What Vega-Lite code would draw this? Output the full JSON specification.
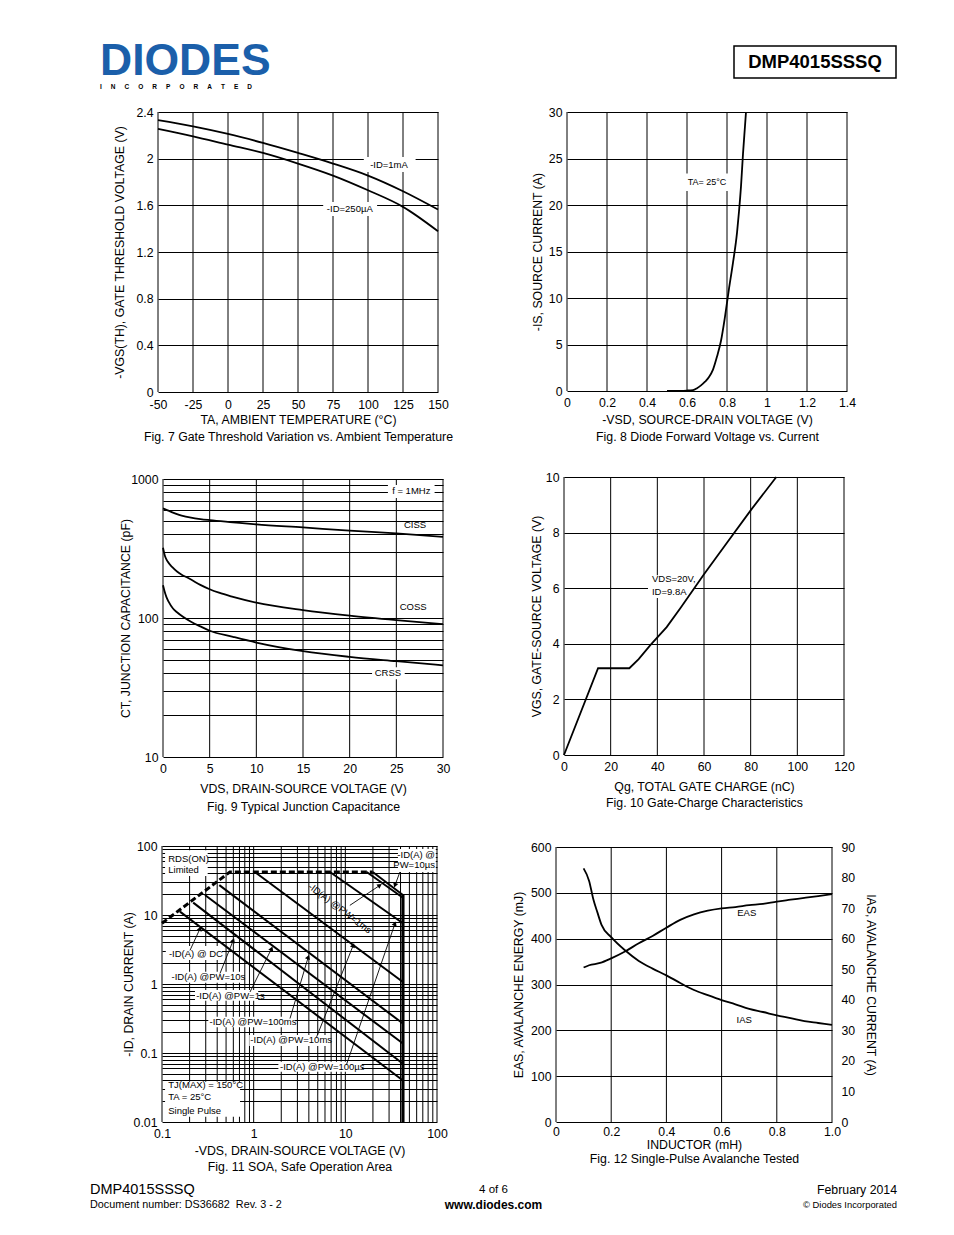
{
"$schema": "https://vega.github.io/schema/vega-lite/v6.json",
"width": 954, "height": 1235, "padding": 0, "autosize": {"type": "none"},
"background": "white",
"config": {
 "view": {"stroke": null},
 "font": "Liberation Sans",
 "axis": {"labelFont": "Liberation Sans", "labelFontSize": 12.3, "labelColor": "#000", "titleFont": "Liberation Sans", "titleFontSize": 12.3, "titleFontWeight": "normal", "titleColor": "#000", "ticks": false, "tickSize": 0, "domain": false, "labelPadding": 5, "gridColor": "#000", "gridOpacity": 1, "gridWidth": 1, "labelFlush": false, "labelOverlap": false, "labelBound": false, "grid": false, "titleBaseline": "middle"},
 "text": {"font": "Liberation Sans", "fontSize": 9.5, "color": "#000"},
 "line": {"color": "#000", "strokeWidth": 1.8},
 "rule": {"color": "#000", "strokeWidth": 1}
},
"resolve": {"scale": {"x": "independent", "y": "independent"}, "axis": {"x": "independent", "y": "independent"}},
"layer": [
 {
  "layer": [
   {"data": {"values": [{"slot": "left", "row": "main", "t": "DIODES"}]},
    "mark": {"type": "text", "align": "left", "baseline": "middle", "fontSize": 44.5, "fontWeight": "bold", "color": "#1b5faa"},
    "encoding": {
     "x": {"field": "slot", "type": "nominal", "scale": {"type": "point", "domain": ["left", "right"], "range": [100, 815], "padding": 0}, "axis": null},
     "y": {"field": "row", "type": "nominal", "scale": {"type": "point", "domain": ["main", "sub"], "range": [62, 86.5], "padding": 0}, "axis": null},
     "text": {"field": "t"}}},
   {"data": {"values": [{"slot": "left", "row": "sub", "t": "I\u00a0\u00a0\u00a0\u00a0\u00a0N\u00a0\u00a0\u00a0\u00a0\u00a0C\u00a0\u00a0\u00a0\u00a0\u00a0O\u00a0\u00a0\u00a0\u00a0\u00a0R\u00a0\u00a0\u00a0\u00a0\u00a0P\u00a0\u00a0\u00a0\u00a0\u00a0O\u00a0\u00a0\u00a0\u00a0\u00a0R\u00a0\u00a0\u00a0\u00a0\u00a0A\u00a0\u00a0\u00a0\u00a0\u00a0T\u00a0\u00a0\u00a0\u00a0\u00a0E\u00a0\u00a0\u00a0\u00a0\u00a0D"}]},
    "mark": {"type": "text", "align": "left", "baseline": "middle", "fontSize": 6.5, "fontWeight": "bold"},
    "encoding": {"x": {"field": "slot", "type": "nominal", "axis": null}, "y": {"field": "row", "type": "nominal", "axis": null}, "text": {"field": "t"}}},
   {"data": {"values": [{"slot": "right", "row": "main"}]},
    "mark": {"type": "rect", "width": 162, "height": 32, "fill": "white", "stroke": "#000", "strokeWidth": 1.5},
    "encoding": {"x": {"field": "slot", "type": "nominal", "axis": null}, "y": {"field": "row", "type": "nominal", "axis": null}}},
   {"data": {"values": [{"slot": "right", "row": "main", "t": "DMP4015SSSQ"}]},
    "mark": {"type": "text", "baseline": "middle", "fontSize": 18.5, "fontWeight": "bold"},
    "encoding": {"x": {"field": "slot", "type": "nominal", "axis": null}, "y": {"field": "row", "type": "nominal", "axis": null}, "text": {"field": "t"}}}
  ]
 },
 {
  "resolve": {"axis": {"x": "independent", "y": "independent"}},
  "layer": [
   {"data": {"values": [{"v": -50}, {"v": -25}, {"v": 0}, {"v": 25}, {"v": 50}, {"v": 75}, {"v": 100}, {"v": 125}, {"v": 150}]},
    "mark": {"type": "rule"},
    "encoding": {"x": {"field": "v", "type": "quantitative", "axis": null}, "y": {"datum": 0, "axis": null}, "y2": {"datum": 2.4}}},
   {"data": {"values": [{"x1": 68, "x2": 106.5, "y1": 1.509, "y2": 1.629}, {"x1": 97, "x2": 134, "y1": 1.886, "y2": 2.014}]},
    "mark": {"type": "rect", "fill": "white"},
    "encoding": {"x": {"field": "x1", "type": "quantitative", "axis": null}, "x2": {"field": "x2"}, "y": {"field": "y1", "type": "quantitative", "axis": null}, "y2": {"field": "y2"}}},
   {"data": {"values": [
     {"s": "1mA", "t": -50, "v": 2.33}, {"s": "1mA", "t": -25, "v": 2.277}, {"s": "1mA", "t": 0, "v": 2.212}, {"s": "1mA", "t": 25, "v": 2.135}, {"s": "1mA", "t": 50, "v": 2.049}, {"s": "1mA", "t": 75, "v": 1.958}, {"s": "1mA", "t": 100, "v": 1.855}, {"s": "1mA", "t": 125, "v": 1.721}, {"s": "1mA", "t": 150, "v": 1.564},
     {"s": "250uA", "t": -50, "v": 2.255}, {"s": "250uA", "t": -25, "v": 2.192}, {"s": "250uA", "t": 0, "v": 2.12}, {"s": "250uA", "t": 25, "v": 2.049}, {"s": "250uA", "t": 50, "v": 1.958}, {"s": "250uA", "t": 75, "v": 1.855}, {"s": "250uA", "t": 100, "v": 1.729}, {"s": "250uA", "t": 125, "v": 1.587}, {"s": "250uA", "t": 150, "v": 1.378}]},
    "mark": {"type": "line", "interpolate": "monotone"},
    "encoding": {
     "x": {"field": "t", "type": "quantitative", "scale": {"domain": [-50, 150], "range": [158, 438], "nice": false, "zero": false},
       "axis": {"orient": "bottom", "offset": -843, "values": [-50, -25, 0, 25, 50, 75, 100, 125, 150], "labelPadding": 6.5, "labelExpr": "'' + datum.value", "title": ["TA, AMBIENT TEMPERATURE (°C)", "Fig. 7 Gate Threshold Variation vs. Ambient Temperature"], "titleY": 27, "titleBaseline": "middle", "titleLineHeight": 17}},
     "y": {"field": "v", "type": "quantitative", "scale": {"domain": [0, 2.4], "range": [392, 112], "nice": false, "zero": false},
       "axis": {"orient": "left", "offset": -158, "values": [0, 0.4, 0.8, 1.2, 1.6, 2, 2.4], "labelExpr": "'' + datum.value", "grid": true, "title": "-VGS(TH), GATE THRESHOLD VOLTAGE (V)", "titleX": -39, "titleBaseline": "middle", "titleAngle": 270}},
     "detail": {"field": "s"}}},
   {"data": {"values": [{"x": 115, "y": 1.949, "t": "-ID=1mA"}, {"x": 87, "y": 1.569, "t": "-ID=250µA"}]},
    "mark": {"type": "text"},
    "encoding": {"x": {"field": "x", "type": "quantitative", "axis": null}, "y": {"field": "y", "type": "quantitative", "axis": null}, "text": {"field": "t"}}}
  ]
 },
 {
  "resolve": {"axis": {"x": "independent", "y": "independent"}},
  "layer": [
   {"data": {"values": [{"v": 0}, {"v": 0.2}, {"v": 0.4}, {"v": 0.6}, {"v": 0.8}, {"v": 1}, {"v": 1.2}, {"v": 1.4}]},
    "mark": {"type": "rule"},
    "encoding": {"x": {"field": "v", "type": "quantitative", "axis": null}, "y": {"datum": 0, "axis": null}, "y2": {"datum": 30}}},
   {"data": {"values": [{"x1": 0.59, "x2": 0.815, "y1": 21.5, "y2": 23.4}]},
    "mark": {"type": "rect", "fill": "white"},
    "encoding": {"x": {"field": "x1", "type": "quantitative", "axis": null}, "x2": {"field": "x2"}, "y": {"field": "y1", "type": "quantitative", "axis": null}, "y2": {"field": "y2"}}},
   {"data": {"values": [
     {"v": 0.5, "i": 0}, {"v": 0.6, "i": 0.05}, {"v": 0.63, "i": 0.1}, {"v": 0.65, "i": 0.3}, {"v": 0.67, "i": 0.6}, {"v": 0.69, "i": 1.0}, {"v": 0.71, "i": 1.5}, {"v": 0.73, "i": 2.3}, {"v": 0.75, "i": 3.7}, {"v": 0.77, "i": 5.4}, {"v": 0.79, "i": 8.0}, {"v": 0.81, "i": 11.0}, {"v": 0.83, "i": 13.8}, {"v": 0.85, "i": 17.0}, {"v": 0.86, "i": 19.3}, {"v": 0.87, "i": 22.0}, {"v": 0.88, "i": 25.5}, {"v": 0.89, "i": 28.5}, {"v": 0.895, "i": 30}]},
    "mark": {"type": "line", "interpolate": "monotone"},
    "encoding": {
     "x": {"field": "v", "type": "quantitative", "scale": {"domain": [0, 1.4], "range": [567, 847], "nice": false, "zero": false},
       "axis": {"orient": "bottom", "offset": -844, "values": [0, 0.2, 0.4, 0.6, 0.8, 1, 1.2, 1.4], "labelExpr": "'' + datum.value", "title": ["-VSD, SOURCE-DRAIN VOLTAGE (V)", "Fig. 8 Diode Forward Voltage vs. Current"], "titleY": 28, "titleBaseline": "middle", "titleLineHeight": 17}},
     "y": {"field": "i", "type": "quantitative", "scale": {"domain": [0, 30], "range": [391, 112], "nice": false, "zero": false},
       "axis": {"orient": "left", "offset": -567, "values": [0, 5, 10, 15, 20, 25, 30], "grid": true, "title": "-IS, SOURCE CURRENT (A)", "titleX": -30, "titleBaseline": "middle", "titleAngle": 270}}}},
   {"data": {"values": [{"x": 0.70, "y": 22.5, "t": "TA= 25°C"}]},
    "mark": {"type": "text", "fontSize": 9},
    "encoding": {"x": {"field": "x", "type": "quantitative", "axis": null}, "y": {"field": "y", "type": "quantitative", "axis": null}, "text": {"field": "t"}}}
  ]
 },
 {
  "resolve": {"axis": {"x": "independent", "y": "independent"}},
  "layer": [
   {"data": {"values": [{"v": 0}, {"v": 5}, {"v": 10}, {"v": 15}, {"v": 20}, {"v": 25}, {"v": 30}]},
    "mark": {"type": "rule"},
    "encoding": {"x": {"field": "v", "type": "quantitative", "axis": null}, "y": {"datum": 10, "axis": null}, "y2": {"datum": 1000}}},
   {"data": {"values": [{"x1": 24.1, "x2": 29.1, "y1": 730, "y2": 905}, {"x1": 22.4, "x2": 25.9, "y1": 36.2, "y2": 44.2}]},
    "mark": {"type": "rect", "fill": "white"},
    "encoding": {"x": {"field": "x1", "type": "quantitative", "axis": null}, "x2": {"field": "x2"}, "y": {"field": "y1", "type": "quantitative", "axis": null}, "y2": {"field": "y2"}}},
   {"data": {"values": [
     {"s": "Ciss", "v": 0, "c": 615}, {"s": "Ciss", "v": 0.5, "c": 595}, {"s": "Ciss", "v": 1, "c": 575}, {"s": "Ciss", "v": 1.5, "c": 558}, {"s": "Ciss", "v": 2, "c": 545}, {"s": "Ciss", "v": 3, "c": 527}, {"s": "Ciss", "v": 4, "c": 515}, {"s": "Ciss", "v": 5, "c": 506}, {"s": "Ciss", "v": 7.5, "c": 488}, {"s": "Ciss", "v": 10, "c": 471}, {"s": "Ciss", "v": 15, "c": 448}, {"s": "Ciss", "v": 20, "c": 425}, {"s": "Ciss", "v": 25, "c": 406}, {"s": "Ciss", "v": 30, "c": 384},
     {"s": "Coss", "v": 0, "c": 320}, {"s": "Coss", "v": 0.2, "c": 280}, {"s": "Coss", "v": 0.5, "c": 255}, {"s": "Coss", "v": 1, "c": 232}, {"s": "Coss", "v": 1.5, "c": 216}, {"s": "Coss", "v": 2, "c": 205}, {"s": "Coss", "v": 2.5, "c": 197}, {"s": "Coss", "v": 3, "c": 189}, {"s": "Coss", "v": 4, "c": 173}, {"s": "Coss", "v": 5, "c": 161}, {"s": "Coss", "v": 6, "c": 152}, {"s": "Coss", "v": 7.5, "c": 142}, {"s": "Coss", "v": 10, "c": 129}, {"s": "Coss", "v": 15, "c": 114}, {"s": "Coss", "v": 20, "c": 104}, {"s": "Coss", "v": 25, "c": 96.5}, {"s": "Coss", "v": 30, "c": 90.3},
     {"s": "Crss", "v": 0, "c": 172}, {"s": "Crss", "v": 0.15, "c": 157}, {"s": "Crss", "v": 0.36, "c": 142}, {"s": "Crss", "v": 0.6, "c": 131}, {"s": "Crss", "v": 1.07, "c": 117}, {"s": "Crss", "v": 1.5, "c": 110}, {"s": "Crss", "v": 2.14, "c": 102}, {"s": "Crss", "v": 3, "c": 94}, {"s": "Crss", "v": 4, "c": 87}, {"s": "Crss", "v": 5, "c": 81}, {"s": "Crss", "v": 7.5, "c": 73.2}, {"s": "Crss", "v": 10, "c": 66.6}, {"s": "Crss", "v": 15, "c": 57.7}, {"s": "Crss", "v": 20, "c": 52.5}, {"s": "Crss", "v": 25, "c": 48.9}, {"s": "Crss", "v": 30, "c": 45.7}]},
    "mark": {"type": "line", "interpolate": "monotone"},
    "encoding": {
     "x": {"field": "v", "type": "quantitative", "scale": {"domain": [0, 30], "range": [163, 443], "nice": false, "zero": false},
       "axis": {"orient": "bottom", "offset": -478, "values": [0, 5, 10, 15, 20, 25, 30], "title": ["VDS, DRAIN-SOURCE VOLTAGE (V)", "Fig. 9 Typical Junction Capacitance"], "titleY": 31, "titleBaseline": "middle", "titleLineHeight": 18}},
     "y": {"field": "c", "type": "quantitative", "scale": {"type": "log", "domain": [10, 1000], "range": [757, 479], "nice": false},
       "axis": {"orient": "left", "offset": -163, "values": [10, 20, 30, 40, 50, 60, 70, 80, 90, 100, 200, 300, 400, 500, 600, 700, 800, 900, 1000], "format": "~g", "labelExpr": "indexof([10, 100, 1000], datum.value) >= 0 ? datum.label : ''", "grid": true, "title": "CT, JUNCTION CAPACITANCE (pF)", "titleX": -38, "titleBaseline": "middle", "titleAngle": 270}},
     "detail": {"field": "s"}}},
   {"data": {"values": [{"x": 26.6, "y": 826, "t": "f = 1MHz"}, {"x": 27.0, "y": 466, "t": "CISS"}, {"x": 26.8, "y": 120, "t": "COSS"}, {"x": 24.1, "y": 40, "t": "CRSS"}]},
    "mark": {"type": "text"},
    "encoding": {"x": {"field": "x", "type": "quantitative", "axis": null}, "y": {"field": "y", "type": "quantitative", "axis": null}, "text": {"field": "t"}}}
  ]
 },
 {
  "resolve": {"axis": {"x": "independent", "y": "independent"}},
  "layer": [
   {"data": {"values": [{"v": 0}, {"v": 20}, {"v": 40}, {"v": 60}, {"v": 80}, {"v": 100}, {"v": 120}]},
    "mark": {"type": "rule"},
    "encoding": {"x": {"field": "v", "type": "quantitative", "axis": null}, "y": {"datum": 0, "axis": null}, "y2": {"datum": 10}}},
   {"data": {"values": [{"x1": 36, "x2": 56, "y1": 5.65, "y2": 6.47}]},
    "mark": {"type": "rect", "fill": "white"},
    "encoding": {"x": {"field": "x1", "type": "quantitative", "axis": null}, "x2": {"field": "x2"}, "y": {"field": "y1", "type": "quantitative", "axis": null}, "y2": {"field": "y2"}}},
   {"data": {"values": [
     {"q": 0, "v": 0}, {"q": 14.6, "v": 3.12}, {"q": 28, "v": 3.12}, {"q": 32, "v": 3.45}, {"q": 37, "v": 3.95}, {"q": 44, "v": 4.6}, {"q": 50, "v": 5.3}, {"q": 60, "v": 6.5}, {"q": 70, "v": 7.65}, {"q": 80, "v": 8.8}, {"q": 91, "v": 10}]},
    "mark": {"type": "line"},
    "encoding": {
     "x": {"field": "q", "type": "quantitative", "scale": {"domain": [0, 120], "range": [564, 844], "nice": false, "zero": false},
       "axis": {"orient": "bottom", "offset": -480, "values": [0, 20, 40, 60, 80, 100, 120], "title": ["Qg, TOTAL GATE CHARGE (nC)", "Fig. 10 Gate-Charge Characteristics"], "titleY": 31, "titleBaseline": "middle", "titleLineHeight": 16}},
     "y": {"field": "v", "type": "quantitative", "scale": {"domain": [0, 10], "range": [755, 477], "nice": false, "zero": false},
       "axis": {"orient": "left", "offset": -564, "values": [0, 2, 4, 6, 8, 10], "grid": true, "title": "VGS, GATE-SOURCE VOLTAGE (V)", "titleX": -28, "titleBaseline": "middle", "titleAngle": 270}}}},
   {"data": {"values": [{"x": 37.7, "y": 6.33, "t": "VDS=20V,"}, {"x": 37.7, "y": 5.86, "t": "ID=9.8A"}]},
    "mark": {"type": "text", "align": "left"},
    "encoding": {"x": {"field": "x", "type": "quantitative", "axis": null}, "y": {"field": "y", "type": "quantitative", "axis": null}, "text": {"field": "t"}}}
  ]
 },
 {
  "resolve": {"axis": {"x": "independent", "y": "independent"}},
  "layer": [
   {"data": {"values": [{"v": 0.1}, {"v": 0.2}, {"v": 0.3}, {"v": 0.4}, {"v": 0.5}, {"v": 0.6}, {"v": 0.7}, {"v": 0.8}, {"v": 0.9}, {"v": 1}, {"v": 2}, {"v": 3}, {"v": 4}, {"v": 5}, {"v": 6}, {"v": 7}, {"v": 8}, {"v": 9}, {"v": 10}, {"v": 20}, {"v": 30}, {"v": 40}, {"v": 50}, {"v": 60}, {"v": 70}, {"v": 80}, {"v": 90}, {"v": 100}]},
    "mark": {"type": "rule"},
    "encoding": {"x": {"field": "v", "type": "quantitative", "axis": null}, "y": {"datum": 0.01, "axis": null}, "y2": {"datum": 100}}},
   {"data": {"values": [
     {"x1": 0.108, "x2": 0.315, "y1": 36.7, "y2": 87},
     {"x1": 37.5, "x2": 97, "y1": 42, "y2": 90.5},
     {"x1": 0.11, "x2": 0.451, "y1": 2.23, "y2": 3.55},
     {"x1": 0.122, "x2": 0.766, "y1": 1.04, "y2": 1.51},
     {"x1": 0.229, "x2": 1.12, "y1": 0.573, "y2": 0.818},
     {"x1": 0.32, "x2": 2.83, "y1": 0.236, "y2": 0.336},
     {"x1": 0.896, "x2": 6.8, "y1": 0.126, "y2": 0.182},
     {"x1": 1.86, "x2": 15.1, "y1": 0.0536, "y2": 0.0748},
     {"x1": 0.108, "x2": 0.71, "y1": 0.0119, "y2": 0.0384}]},
    "mark": {"type": "rect", "fill": "white"},
    "encoding": {"x": {"field": "x1", "type": "quantitative", "axis": null}, "x2": {"field": "x2"}, "y": {"field": "y1", "type": "quantitative", "axis": null}, "y2": {"field": "y2"}}},
   {"data": {"values": [
     {"s": "DC", "v": 0.157, "i": 11.2}, {"s": "DC", "v": 42.5, "i": 0.040},
     {"s": "10s", "v": 0.219, "i": 15.1}, {"s": "10s", "v": 42.5, "i": 0.070},
     {"s": "1s", "v": 0.294, "i": 19.5}, {"s": "1s", "v": 42.5, "i": 0.137},
     {"s": "100ms", "v": 0.422, "i": 27.1}, {"s": "100ms", "v": 42.5, "i": 0.267},
     {"s": "10ms", "v": 1.03, "i": 42}, {"s": "10ms", "v": 42.5, "i": 1.07},
     {"s": "100us", "v": 6.8, "i": 42}, {"s": "100us", "v": 42.5, "i": 7.6},
     {"s": "1ms", "v": 17.1, "i": 42}, {"s": "1ms", "v": 42.5, "i": 17.8},
     {"s": "10us", "v": 19.9, "i": 42}, {"s": "10us", "v": 42.5, "i": 19.5}]},
    "mark": {"type": "line", "strokeWidth": 2},
    "encoding": {
     "x": {"field": "v", "type": "quantitative", "scale": {"type": "log", "domain": [0.1, 100], "range": [162, 437], "nice": false},
       "axis": {"orient": "bottom", "offset": -113, "values": [0.1, 0.2, 0.3, 0.4, 0.5, 0.6, 0.7, 0.8, 0.9, 1, 2, 3, 4, 5, 6, 7, 8, 9, 10, 20, 30, 40, 50, 60, 70, 80, 90, 100], "format": "~g", "labelExpr": "indexof([0.1, 1, 10, 100], datum.value) >= 0 ? datum.label : ''", "title": ["-VDS, DRAIN-SOURCE VOLTAGE (V)", "Fig. 11 SOA, Safe Operation Area"], "titleY": 28, "titleBaseline": "middle", "titleLineHeight": 16}},
     "y": {"field": "i", "type": "quantitative", "scale": {"type": "log", "domain": [0.01, 100], "range": [1122, 846], "nice": false},
       "axis": {"orient": "left", "offset": -162, "values": [0.01, 0.02, 0.03, 0.04, 0.05, 0.06, 0.07, 0.08, 0.09, 0.1, 0.2, 0.3, 0.4, 0.5, 0.6, 0.7, 0.8, 0.9, 1, 2, 3, 4, 5, 6, 7, 8, 9, 10, 20, 30, 40, 50, 60, 70, 80, 90, 100], "format": "~g", "labelExpr": "indexof([0.01, 0.1, 1, 10, 100], datum.value) >= 0 ? datum.label : ''", "grid": true, "title": "-ID, DRAIN CURRENT (A)", "titleX": -34, "titleBaseline": "middle", "titleAngle": 270}},
     "detail": {"field": "s"}}},
   {"data": {"values": [{"v": 0.1, "i": 7.6}, {"v": 0.55, "i": 42}, {"v": 19.9, "i": 42}]},
    "mark": {"type": "line", "strokeWidth": 3, "strokeDash": [6, 3]},
    "encoding": {"x": {"field": "v", "type": "quantitative", "axis": null}, "y": {"field": "i", "type": "quantitative", "axis": null}}},
   {"data": {"values": [{"v": 42.5, "i": 19.5}, {"v": 42.5, "i": 0.01}]},
    "mark": {"type": "line", "strokeWidth": 3.2},
    "encoding": {"x": {"field": "v", "type": "quantitative", "axis": null}, "y": {"field": "i", "type": "quantitative", "axis": null}}},
   {"data": {"values": [
     {"s": "DC", "x1": 0.202, "y1": 3.07, "x2": 0.26, "y2": 6.35},
     {"s": "10s", "x1": 0.429, "y1": 1.42, "x2": 0.599, "y2": 4.3},
     {"s": "1s", "x1": 0.912, "y1": 0.766, "x2": 1.57, "y2": 3.26},
     {"s": "100ms", "x1": 2.49, "y1": 0.316, "x2": 3.94, "y2": 2.46},
     {"s": "10ms", "x1": 4.86, "y1": 0.171, "x2": 12.2, "y2": 3.64},
     {"s": "100us", "x1": 10.3, "y1": 0.068, "x2": 34.8, "y2": 7.5},
     {"s": "1ms", "x1": 11.2, "y1": 13.8, "x2": 23.8, "y2": 26.9},
     {"s": "10us", "x1": 39.4, "y1": 42, "x2": 34.8, "y2": 26.9}]},
    "layer": [
     {"mark": {"type": "rule", "strokeWidth": 0.9},
      "encoding": {"x": {"field": "x1", "type": "quantitative", "axis": null}, "x2": {"field": "x2"}, "y": {"field": "y1", "type": "quantitative", "axis": null}, "y2": {"field": "y2"}}},
     {"transform": [{"filter": {"field": "s", "oneOf": ["DC", "10s", "1s", "100ms", "10ms", "100us"]}}],
      "mark": {"type": "point", "shape": "triangle-up", "filled": true, "size": 28, "angle": 21, "color": "#000", "opacity": 1},
      "encoding": {"x": {"field": "x2", "type": "quantitative", "axis": null}, "y": {"field": "y2", "type": "quantitative", "axis": null}}},
     {"transform": [{"filter": {"field": "s", "equal": "1ms"}}],
      "mark": {"type": "point", "shape": "triangle-up", "filled": true, "size": 28, "angle": 56, "color": "#000", "opacity": 1},
      "encoding": {"x": {"field": "x2", "type": "quantitative", "axis": null}, "y": {"field": "y2", "type": "quantitative", "axis": null}}},
     {"transform": [{"filter": {"field": "s", "equal": "10us"}}],
      "mark": {"type": "point", "shape": "triangle-up", "filled": true, "size": 28, "angle": 200, "color": "#000", "opacity": 1},
      "encoding": {"x": {"field": "x2", "type": "quantitative", "axis": null}, "y": {"field": "y2", "type": "quantitative", "axis": null}}}
    ]},
   {"data": {"values": [
     {"x": 0.117, "y": 65.7, "t": "RDS(ON)"}, {"x": 0.117, "y": 44.5, "t": "Limited"},
     {"x": 0.119, "y": 2.76, "t": "-ID(A) @ DC"},
     {"x": 0.127, "y": 1.26, "t": "-ID(A) @PW=10s"},
     {"x": 0.236, "y": 0.67, "t": "-ID(A) @PW=1s"},
     {"x": 0.33, "y": 0.281, "t": "-ID(A) @PW=100ms"},
     {"x": 0.92, "y": 0.153, "t": "-ID(A) @PW=10ms"},
     {"x": 1.94, "y": 0.0627, "t": "-ID(A) @PW=100µs"},
     {"x": 0.117, "y": 0.034, "t": "TJ(MAX) = 150°C"}, {"x": 0.117, "y": 0.023, "t": "TA = 25°C"}, {"x": 0.117, "y": 0.0142, "t": "Single Pulse"}]},
    "mark": {"type": "text", "align": "left"},
    "encoding": {"x": {"field": "x", "type": "quantitative", "axis": null}, "y": {"field": "y", "type": "quantitative", "axis": null}, "text": {"field": "t"}}},
   {"data": {"values": [{"x": 95, "y": 73, "t": "-ID(A) @"}, {"x": 95, "y": 52.5, "t": "PW=10µs"}]},
    "mark": {"type": "text", "align": "right"},
    "encoding": {"x": {"field": "x", "type": "quantitative", "axis": null}, "y": {"field": "y", "type": "quantitative", "axis": null}, "text": {"field": "t"}}},
   {"data": {"values": [{"x": 8.73, "y": 12.4, "t": "-ID(A) @PW=1ms"}]},
    "mark": {"type": "text", "angle": 37},
    "encoding": {"x": {"field": "x", "type": "quantitative", "axis": null}, "y": {"field": "y", "type": "quantitative", "axis": null}, "text": {"field": "t"}}}
  ]
 },
 {
  "resolve": {"scale": {"y": "independent"}, "axis": {"x": "independent", "y": "independent"}},
  "layer": [
   {"data": {"values": [{"v": 0}, {"v": 0.2}, {"v": 0.4}, {"v": 0.6}, {"v": 0.8}, {"v": 1}]},
    "mark": {"type": "rule"},
    "encoding": {"x": {"field": "v", "type": "quantitative", "axis": null}, "y": {"datum": 0, "scale": {"domain": [0, 600], "range": [1122, 847], "nice": false, "zero": false}, "axis": null}, "y2": {"datum": 600}}},
   {"data": {"values": [
     {"l": 0.1, "e": 337}, {"l": 0.12, "e": 342}, {"l": 0.16, "e": 347}, {"l": 0.2, "e": 357}, {"l": 0.25, "e": 372}, {"l": 0.3, "e": 390}, {"l": 0.35, "e": 406}, {"l": 0.4, "e": 424}, {"l": 0.45, "e": 441}, {"l": 0.5, "e": 453}, {"l": 0.55, "e": 461}, {"l": 0.6, "e": 466}, {"l": 0.65, "e": 469}, {"l": 0.7, "e": 473}, {"l": 0.75, "e": 476}, {"l": 0.8, "e": 481}, {"l": 0.85, "e": 485}, {"l": 0.9, "e": 489}, {"l": 0.95, "e": 493}, {"l": 1.0, "e": 497}]},
    "mark": {"type": "line", "interpolate": "monotone"},
    "encoding": {
     "x": {"field": "l", "type": "quantitative", "scale": {"domain": [0, 1], "range": [556, 832], "nice": false, "zero": false},
       "axis": {"orient": "bottom", "offset": -113, "values": [0, 0.2, 0.4, 0.6, 0.8, 1], "labelPadding": 3, "labelExpr": "datum.value == 0 ? '0' : format(datum.value, '.1f')", "title": ["INDUCTOR (mH)", "Fig. 12 Single-Pulse Avalanche Tested"], "titleY": 22.5, "titleBaseline": "middle", "titleLineHeight": 14}},
     "y": {"field": "e", "type": "quantitative", "scale": {"domain": [0, 600], "range": [1122, 847], "nice": false, "zero": false},
       "axis": {"orient": "left", "offset": -556, "values": [0, 100, 200, 300, 400, 500, 600], "grid": true, "title": "EAS, AVALANCHE ENERGY (mJ)", "titleX": -38, "titleBaseline": "middle", "titleAngle": 270}}}},
   {"data": {"values": [
     {"l": 0.1, "i": 83}, {"l": 0.12, "i": 78.9}, {"l": 0.135, "i": 73}, {"l": 0.15, "i": 68.6}, {"l": 0.165, "i": 64.5}, {"l": 0.2, "i": 60.5}, {"l": 0.25, "i": 56.2}, {"l": 0.3, "i": 52.7}, {"l": 0.35, "i": 50.2}, {"l": 0.4, "i": 48}, {"l": 0.45, "i": 45.5}, {"l": 0.5, "i": 43.2}, {"l": 0.55, "i": 41.5}, {"l": 0.6, "i": 39.9}, {"l": 0.65, "i": 38.5}, {"l": 0.7, "i": 37}, {"l": 0.75, "i": 36}, {"l": 0.8, "i": 34.9}, {"l": 0.85, "i": 34}, {"l": 0.9, "i": 33}, {"l": 0.95, "i": 32.4}, {"l": 1.0, "i": 31.8}]},
    "mark": {"type": "line", "interpolate": "monotone"},
    "encoding": {
     "x": {"field": "l", "type": "quantitative", "axis": null},
     "y": {"field": "i", "type": "quantitative", "scale": {"domain": [0, 90], "range": [1122, 847], "nice": false, "zero": false},
       "axis": {"orient": "right", "offset": -122, "values": [0, 10, 20, 30, 40, 50, 60, 70, 80, 90], "labelPadding": 9, "title": "IAS, AVALANCHE CURRENT (A)", "titleX": 38, "titleBaseline": "middle", "titleAngle": 90}}}},
   {"data": {"values": [{"x": 0.691, "y": 455, "t": "EAS"}, {"x": 0.682, "y": 222.6, "t": "IAS"}]},
    "mark": {"type": "text"},
    "encoding": {"x": {"field": "x", "type": "quantitative", "axis": null}, "y": {"field": "y", "type": "quantitative", "scale": {"domain": [0, 600], "range": [1122, 847], "nice": false, "zero": false}, "axis": null}, "text": {"field": "t"}}}
  ]
 },
 {
  "layer": [
   {"data": {"values": [{"slot": "left", "line": "1", "t": "DMP4015SSSQ"}]},
    "mark": {"type": "text", "align": "left", "baseline": "middle", "fontSize": 14.5},
    "encoding": {
     "x": {"field": "slot", "type": "nominal", "scale": {"type": "point", "domain": ["left", "center", "right"], "range": [90, 897], "padding": 0}, "axis": null},
     "y": {"field": "line", "type": "nominal", "scale": {"type": "point", "domain": ["1", "2"], "range": [1190, 1205], "padding": 0}, "axis": null},
     "text": {"field": "t"}}},
   {"data": {"values": [{"slot": "left", "line": "2", "t": "Document number: DS36682\u00a0 Rev. 3 - 2"}]},
    "mark": {"type": "text", "align": "left", "baseline": "middle", "fontSize": 10.8},
    "encoding": {"x": {"field": "slot", "type": "nominal", "axis": null}, "y": {"field": "line", "type": "nominal", "axis": null}, "text": {"field": "t"}}},
   {"data": {"values": [{"slot": "center", "line": "1", "t": "4 of 6"}]},
    "mark": {"type": "text", "align": "center", "baseline": "middle", "fontSize": 11.5},
    "encoding": {"x": {"field": "slot", "type": "nominal", "axis": null}, "y": {"field": "line", "type": "nominal", "axis": null}, "text": {"field": "t"}}},
   {"data": {"values": [{"slot": "center", "line": "2", "t": "www.diodes.com"}]},
    "mark": {"type": "text", "align": "center", "baseline": "middle", "fontSize": 12, "fontWeight": "bold"},
    "encoding": {"x": {"field": "slot", "type": "nominal", "axis": null}, "y": {"field": "line", "type": "nominal", "axis": null}, "text": {"field": "t"}}},
   {"data": {"values": [{"slot": "right", "line": "1", "t": "February 2014"}]},
    "mark": {"type": "text", "align": "right", "baseline": "middle", "fontSize": 12.3},
    "encoding": {"x": {"field": "slot", "type": "nominal", "axis": null}, "y": {"field": "line", "type": "nominal", "axis": null}, "text": {"field": "t"}}},
   {"data": {"values": [{"slot": "right", "line": "2", "t": "© Diodes Incorporated"}]},
    "mark": {"type": "text", "align": "right", "baseline": "middle", "fontSize": 9.4},
    "encoding": {"x": {"field": "slot", "type": "nominal", "axis": null}, "y": {"field": "line", "type": "nominal", "axis": null}, "text": {"field": "t"}}}
  ]
 }
]
}
